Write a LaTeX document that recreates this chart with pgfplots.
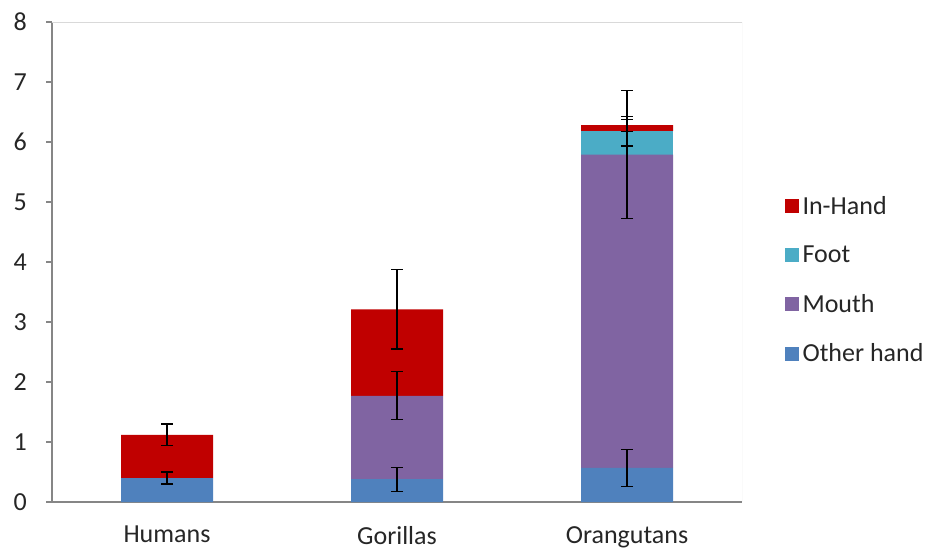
\documentclass[border=0pt]{standalone}
\usepackage{pgfplots}
\pgfplotsset{compat=1.18}
\usepackage{fontspec}
\setmainfont{Carlito}
\definecolor{inhand}{HTML}{C00000}
\definecolor{foot}{HTML}{4BACC6}
\definecolor{mouth}{HTML}{8064A2}
\definecolor{other}{HTML}{4F81BD}
\definecolor{axgray}{HTML}{868686}
\definecolor{frgray}{HTML}{D9D9D9}
\definecolor{txt}{HTML}{262626}
\begin{document}
\begin{tikzpicture}
\useasboundingbox (0,0) rectangle (933pt,550pt);
\pgfplotsset{
  base/.style={
    at={(52pt,48pt)}, anchor=south west,
    scale only axis, width=690pt, height=480pt,
    xmin=-0.5, xmax=2.5, ymin=0, ymax=8,
    font=\fontsize{26}{31}\selectfont\color{txt},
    /pgf/number format/assume math mode=true,
  }
}
\begin{axis}[base,
  ybar stacked, bar width=0.4,
  axis lines*=left,
  axis line style={axgray, line width=1.3pt},
  xtick={0,1,2}, xticklabels={Humans,Gorillas,Orangutans},
  xtick style={draw=none},
  minor xtick={-0.5,0.5,1.5,2.5},
  minor tick length=9pt,
  minor x tick style={axgray, line width=1.3pt},
  ytick={0,1,...,8},
  ytick style={axgray, line width=1.3pt},
  major tick length=6pt,
  tick align=outside,
  yticklabel style={inner sep=0pt, xshift=-19pt},
  xticklabel style={inner sep=0pt, yshift=-18pt, anchor=north},
  legend style={draw=none, fill=none, at={(1.057,0.4625)}, anchor=west,
    row sep=22pt, font=\fontsize{26}{31}\selectfont\color{txt},
    nodes={inner sep=4pt}},
  legend cell align=left,
  reverse legend,
  legend image code/.code={\fill[#1] (0pt,-7pt) rectangle (14pt,7pt);},
]
\addplot[fill=other, draw=none] coordinates {(0,0.40) (1,0.38) (2,0.57)};
\addlegendentry{Other hand}
\addplot[fill=mouth, draw=none] coordinates {(0,0) (1,1.39) (2,5.22)};
\addlegendentry{Mouth}
\addplot[fill=foot, draw=none] coordinates {(0,0) (1,0) (2,0.39)};
\addlegendentry{Foot}
\addplot[fill=inhand, draw=none] coordinates {(0,0.72) (1,1.44) (2,0.10)};
\addlegendentry{In-Hand}
\draw[frgray, line width=1pt] (rel axis cs:0,1) -- (rel axis cs:1,1) -- (rel axis cs:1,0);
\end{axis}
\begin{axis}[base, axis lines=none, xtick=\empty, ytick=\empty]
\addplot[draw=none, mark=none,
  error bars/.cd, y dir=both, y explicit,
  error bar style={draw=black, line width=1.2pt},
  error mark options={rotate=90, mark size=6pt, draw=black, line width=1.2pt}]
  coordinates {
  (0,0.40) +- (0,0.10)
  (0,1.12) +- (0,0.18)
  (1,0.38) +- (0,0.20)
  (1,1.77) +- (0,0.40)
  (1,3.21) +- (0,0.66)
  (2,0.57) +- (0,0.31)
  (2,5.79) +- (0,1.07)
  (2,6.18) +- (0,0.245)
  (2,6.28) +- (0,0.10)
};
\end{axis}
\end{tikzpicture}
\end{document}
